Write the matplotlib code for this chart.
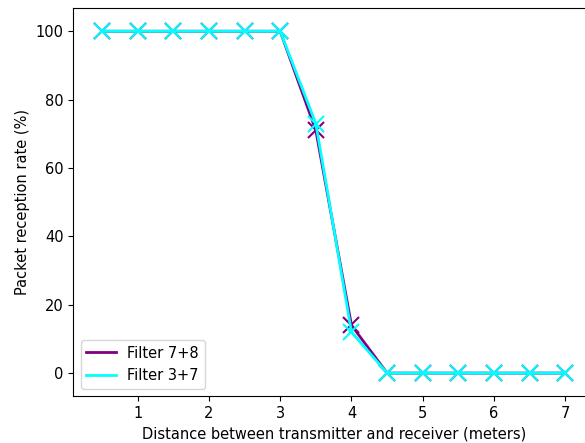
import matplotlib
matplotlib.use("Agg")
import matplotlib.pyplot as plt
from matplotlib.lines import Line2D

# distance (m) and packet reception rate (%)
distance = [0.5, 1, 1.5, 2, 2.5, 3, 3.5, 4, 4.5, 5, 5.5, 6, 6.5, 7]
filter_78 = [100, 100, 100, 100, 100, 100, 71, 14, 0, 0, 0, 0, 0, 0]
filter_37 = [100, 100, 100, 100, 100, 100, 73, 12, 0, 0, 0, 0, 0, 0]
labels = ["Filter 7+8", "Filter 3+7"]
colors = ["purple", "cyan"]

plt.rcParams["font.size"] = 10.5

fig = plt.figure(figsize=(5.85, 4.43), dpi=100)
# right edge of the axes runs past the image, as in the reference crop
ax = fig.add_axes([73.3 / 585, 47 / 443, (594 - 73.3) / 585, 388 / 443])

for ys, c in zip([filter_78, filter_37], colors):
    ax.plot(distance, ys, color=c, marker="x", markersize=12,
            markeredgewidth=1.5, linewidth=2)

ax.set_xlim(0.098, 7.402)
ax.set_ylim(-6.7, 106.8)
ax.set_xticks([1, 2, 3, 4, 5, 6, 7])

ax.set_xlabel("Distance between transmitter and receiver (meters)")
ax.set_ylabel("Packet reception rate (%)")

handles = [Line2D([], [], color=c, linewidth=2) for c in colors]
ax.legend(handles, labels, loc="lower left")

fig.savefig("out.png", dpi=100)
